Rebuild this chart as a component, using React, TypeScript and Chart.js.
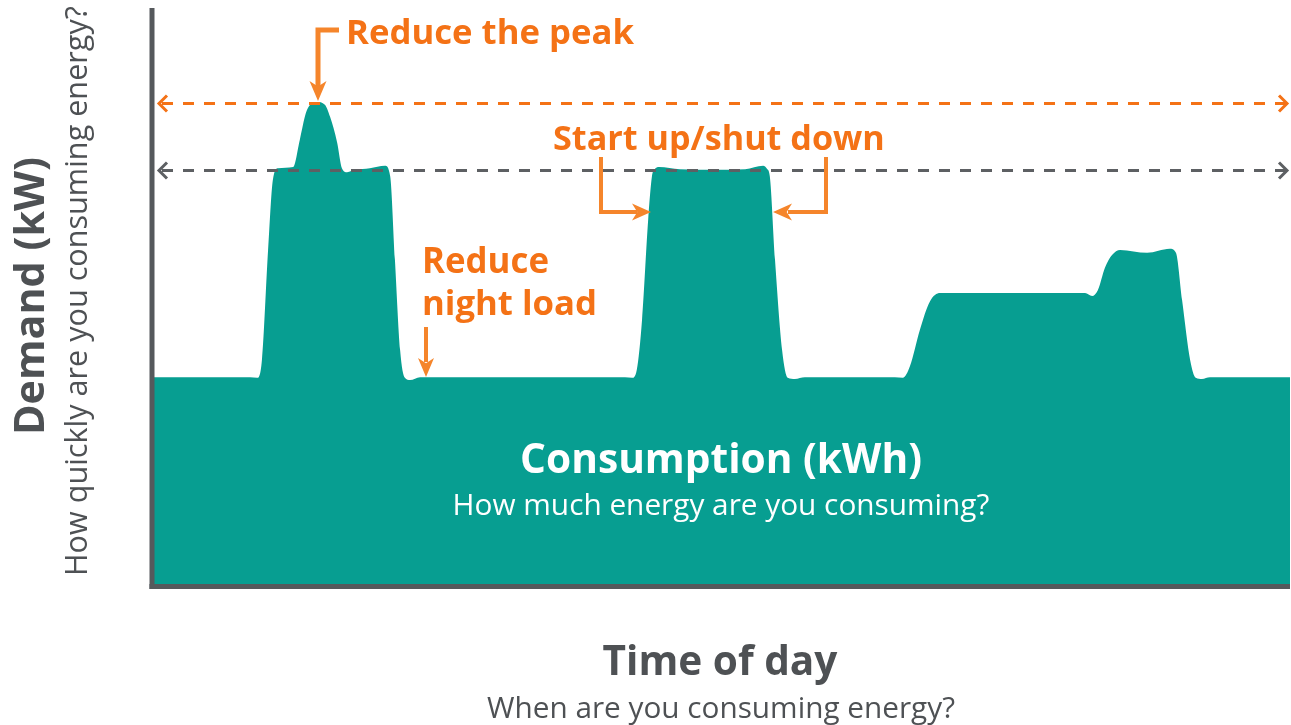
import React, { useEffect, useRef } from "react";
import { Chart, registerables } from "chart.js";

Chart.register(...registerables);

// Time of day (hours, 0-24)
const hours = [
  0, 2.03, 2.18, 2.28, 2.41, 2.51, 2.62, 2.94, 3.08, 3.21, 3.3, 3.44, 3.61, 3.72, 3.87, 3.97, 4.08, 4.25,
  4.56, 4.88, 4.99, 5.09, 5.2, 5.3, 5.41, 5.62,
  9.95, 10.1, 10.2, 10.31, 10.44, 10.52, 10.57, 10.67, 11.11, 11.79, 12.49, 12.87, 12.95, 13.01, 13.12,
  13.27, 13.39, 13.54, 13.75,
  15.65, 15.82, 15.97, 16.18, 16.39, 16.61, 17.87, 19.67, 19.82, 19.94, 20.09, 20.24, 20.41, 20.98,
  21.46, 21.59, 21.72, 21.89, 22.01, 22.14, 22.31, 24,
];

// Demand (kW, relative)
const demand = [
  35.9, 35.9, 35.8, 38.9, 58.0, 70.1, 72.2, 72.4, 77.1, 81.8, 83.2, 83.7, 83.2, 81.1, 76.6, 72.2, 71.5, 71.9,
  72.2, 72.6, 70.8, 56.3, 40.6, 35.8, 35.4, 35.9,
  35.9, 35.8, 37.2, 45.8, 63.2, 70.8, 71.9, 72.4, 72.0, 71.9, 72.0, 72.6, 72.1, 70.8, 56.3,
  40.6, 35.8, 35.6, 35.9,
  35.9, 35.8, 37.8, 44.1, 49.0, 50.5, 50.5, 50.5, 50.0, 51.0, 54.9, 57.1, 58.0, 57.5,
  58.2, 57.5, 49.3, 38.9, 35.8, 35.6, 35.9, 35.9,
];

const peakLevel = 83.5;
const plateauLevel = 71.9;

const TEAL = "#079e91";
const ORANGE = "#f47216";
const ORANGE_ARROW = "#f5852b";
const AXIS = "#55595c";
const DASH_GRAY = "#5d6063";
const TEXT_GRAY = "#4e5154";

function fitFont(ctx: CanvasRenderingContext2D, text: string, width: number, weight: string, family: string) {
  ctx.font = `${weight} 100px ${family}`;
  const w = ctx.measureText(text).width;
  const size = (100 * width) / w;
  ctx.font = `${weight} ${size.toFixed(2)}px ${family}`;
}

function drawText(
  ctx: CanvasRenderingContext2D,
  text: string,
  x: number,
  y: number,
  width: number,
  weight: string,
  color: string,
  align: CanvasTextAlign = "left"
) {
  fitFont(ctx, text, width, weight, '"Open Sans", sans-serif');
  ctx.fillStyle = color;
  ctx.textAlign = align;
  ctx.textBaseline = "alphabetic";
  ctx.fillText(text, x, y);
}

function head(ctx: CanvasRenderingContext2D, tx: number, ty: number, dx: number, dy: number, len: number, hw: number) {
  const bx = tx - dx * len;
  const by = ty - dy * len;
  const px = -dy;
  const py = dx;
  const nx = tx - dx * len * 0.72;
  const ny = ty - dy * len * 0.72;
  ctx.beginPath();
  ctx.moveTo(tx, ty);
  ctx.lineTo(bx + px * hw, by + py * hw);
  ctx.lineTo(nx, ny);
  ctx.lineTo(bx - px * hw, by - py * hw);
  ctx.closePath();
  ctx.fill();
}

function polyline(ctx: CanvasRenderingContext2D, pts: number[][]) {
  ctx.beginPath();
  ctx.moveTo(pts[0][0], pts[0][1]);
  for (let i = 1; i < pts.length; i++) ctx.lineTo(pts[i][0], pts[i][1]);
  ctx.stroke();
}

const overlay = {
  id: "overlay",
  afterDatasetsDraw(chart: any) {
    const ctx: CanvasRenderingContext2D = chart.ctx;
    const { left, right, top, bottom } = chart.chartArea;
    const ys = chart.scales.y;
    ctx.save();

    // axes
    ctx.fillStyle = AXIS;
    ctx.fillRect(left - 4.5, top, 5, bottom - top + 5);
    ctx.fillRect(left - 4.5, bottom, right - left + 4.5, 5);

    // dashed reference lines
    const dashLine = (yv: number, color: string) => {
      const y = Math.round(ys.getPixelForValue(yv)) + 0.5;
      ctx.strokeStyle = color;
      ctx.lineWidth = 3;
      ctx.setLineDash([11, 10]);
      ctx.beginPath();
      ctx.moveTo(left + 8, y);
      ctx.lineTo(right - 4, y);
      ctx.stroke();
      ctx.setLineDash([]);
      ctx.lineJoin = "miter";
      ctx.lineWidth = 3;
      polyline(ctx, [
        [left + 13, y - 8],
        [left + 5, y],
        [left + 13, y + 8],
      ]);
      polyline(ctx, [
        [right - 11, y - 8],
        [right - 3, y],
        [right - 11, y + 8],
      ]);
    };
    dashLine(peakLevel, ORANGE);
    dashLine(plateauLevel, DASH_GRAY);

    // annotation arrows
    ctx.strokeStyle = ORANGE_ARROW;
    ctx.fillStyle = ORANGE_ARROW;
    ctx.lineJoin = "miter";
    ctx.lineCap = "butt";
    ctx.lineWidth = 5;
    const peakY = ys.getPixelForValue(83.7);
    polyline(ctx, [
      [339, 30],
      [318, 30],
      [318, peakY - 14],
    ]);
    head(ctx, 318, peakY - 1, 0, 1, 20, 8.5);

    ctx.lineWidth = 4;
    polyline(ctx, [
      [601, 157],
      [601, 212],
      [637, 212],
    ]);
    head(ctx, 651, 212, 1, 0, 19, 8.5);
    polyline(ctx, [
      [826, 157],
      [826, 212],
      [788, 212],
    ]);
    head(ctx, 773, 212, -1, 0, 19, 8.5);

    polyline(ctx, [
      [426, 327],
      [426, 362],
    ]);
    head(ctx, 426, 377, 0, 1, 19, 8);

    // texts
    drawText(ctx, "Reduce the peak", 346, 44, 288, "700", ORANGE);
    drawText(ctx, "Start up/shut down", 553, 150, 332, "700", ORANGE);
    drawText(ctx, "Reduce", 422, 273, 127, "700", ORANGE);
    drawText(ctx, "night load", 422, 315, 175, "700", ORANGE);
    drawText(ctx, "Consumption (kWh)", 721, 473, 402, "700", "#ffffff", "center");
    drawText(ctx, "How much energy are you consuming?", 721, 515, 537, "400", "#ffffff", "center");
    drawText(ctx, "Time of day", 720, 675, 235, "700", TEXT_GRAY, "center");
    drawText(ctx, "When are you consuming energy?", 721, 718, 468, "400", TEXT_GRAY, "center");

    ctx.save();
    ctx.translate(44, 296);
    ctx.rotate(-Math.PI / 2);
    drawText(ctx, "Demand (kW)", 0, 0, 278, "700", TEXT_GRAY, "center");
    ctx.restore();
    ctx.save();
    ctx.translate(87, 291);
    ctx.rotate(-Math.PI / 2);
    drawText(ctx, "How quickly are you consuming energy?", 0, 0, 570, "400", TEXT_GRAY, "center");
    ctx.restore();

    ctx.restore();
  },
};

export default function App() {
  const ref = useRef<HTMLCanvasElement | null>(null);
  useEffect(() => {
    document.body.style.margin = "0";
    const canvas = ref.current;
    if (!canvas) return;
    const chart = new Chart(canvas, {
      type: "line",
      data: {
        datasets: [
          {
            label: "Demand",
            data: hours.map((h, i) => ({ x: h, y: demand[i] })),
            backgroundColor: TEAL,
            borderColor: TEAL,
            borderWidth: 0,
            pointRadius: 0,
            fill: "origin",
            cubicInterpolationMode: "monotone",
          },
        ],
      },
      options: {
        animation: false,
        responsive: false,
        devicePixelRatio: 1,
        layout: { padding: { left: 154, right: 1, top: 8, bottom: 141 } },
        plugins: { legend: { display: false }, tooltip: { enabled: false } },
        scales: {
          x: { type: "linear", min: 0, max: 24, display: false },
          y: { type: "linear", min: 0, max: 100, display: false },
        },
      },
      plugins: [overlay],
    });
    return () => chart.destroy();
  }, []);
  return (
    <div style={{ width: 1291, height: 725, background: "#fff" }}>
      <canvas ref={ref} width={1291} height={725} style={{ display: "block" }} />
    </div>
  );
}
